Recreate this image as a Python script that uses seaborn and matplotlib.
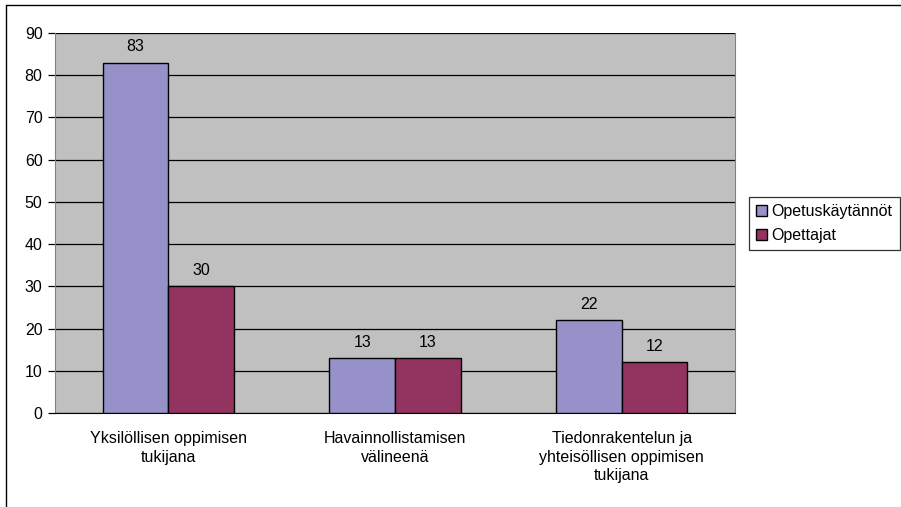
import pandas as pd
import seaborn as sns
import numpy as np
import matplotlib
matplotlib.use('Agg')
import matplotlib.pyplot as plt

categories = ["Yksilöllisen oppimisen\ntukijana",
              "Havainnollistamisen\nvälineenä",
              "Tiedonrakentelun ja\nyhteisöllisen oppimisen\ntukijana"]
series = ["Opetuskäytännöt", "Opettajat"]
opetuskaytannot = [83, 13, 22]
opettajat = [30, 13, 12]
colors = ["#9691C8", "#933460"]

df = pd.DataFrame({
    "kategoria": categories * 2,
    "sarja": [series[0]] * 3 + [series[1]] * 3,
    "arvo": opetuskaytannot + opettajat,
})

fs = 11.5
sns.set_style("white")
plt.rcParams['font.family'] = ['Liberation Sans', 'DejaVu Sans']
plt.rcParams['font.size'] = fs
plt.rcParams['text.color'] = 'black'
plt.rcParams['xtick.color'] = 'black'
plt.rcParams['ytick.color'] = 'black'

fig = plt.figure(figsize=(9.01, 5.07), dpi=100)
ax = fig.add_axes([55/901, 1 - 413/507, 680/901, 380/507])

sns.barplot(data=df, x="kategoria", y="arvo", hue="sarja", palette=colors,
            saturation=1, width=0.58, edgecolor="black", linewidth=1.0, ax=ax, zorder=3)

ax.set_facecolor("#C0C0C0")
ax.set_ylim(0, 90)
ax.set_xlim(-0.5, 2.5)
ax.set_yticks(np.arange(0, 91, 10))
ax.yaxis.grid(True, color="black", linewidth=0.9, zorder=0)
ax.set_axisbelow(True)
ax.set_xlabel("")
ax.set_ylabel("")
ax.spines["top"].set_visible(False)
ax.spines["right"].set_color("#808080")
ax.spines["left"].set_color("#808080")
ax.spines["bottom"].set_color("black")
ax.tick_params(axis="y", length=5, width=0.9, color="black", direction="out", pad=4, labelsize=fs)
ax.tick_params(axis="x", which="major", length=0, pad=13, labelsize=fs)
ax.set_xticks([-0.5, 0.5, 1.5, 2.5], minor=True)
ax.tick_params(axis="x", which="minor", length=5, width=0.9, color="black", direction="out")
ax.tick_params(axis="both", left=True, bottom=True)
for lbl in ax.get_xticklabels():
    lbl.set_linespacing(1.3)

for cont in ax.containers:
    ax.bar_label(cont, padding=6, fontsize=fs, color="black")

leg = ax.legend(loc="upper left", bbox_to_anchor=(749/901, 1 - 197/507),
                bbox_transform=fig.transFigure, frameon=True, fancybox=False,
                edgecolor="black", fontsize=fs, handlelength=0.65, handleheight=0.65,
                handletextpad=0.3, borderpad=0.45, labelspacing=0.55, borderaxespad=0)
leg.get_frame().set_linewidth(0.9)

# outer chart border
fig.add_artist(plt.Line2D([6/901, 6/901], [0, 1 - 5/507], transform=fig.transFigure,
                          color="black", linewidth=1))
fig.add_artist(plt.Line2D([6/901, 1], [1 - 5/507, 1 - 5/507], transform=fig.transFigure,
                          color="black", linewidth=1))

fig.savefig("out.png", dpi=100)
